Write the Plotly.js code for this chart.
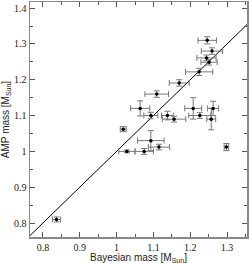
<!DOCTYPE html>
<html><head><meta charset="utf-8">
<script src="https://cdn.plot.ly/plotly-3.0.1.min.js"></script>
<style>html,body{margin:0;padding:0;background:#fff}#c{width:249px;height:263px}</style>
</head><body><div id="c"></div>
<script>
const bayesMass = [1.246,1.259,1.244,1.251,1.224,1.170,1.109,1.064,1.093,1.138,1.156,1.208,1.226,1.262,1.257,1.093,1.028,1.075,1.115,1.298,1.018,0.837];
const ampMass   = [1.310,1.280,1.261,1.249,1.222,1.191,1.160,1.120,1.100,1.100,1.090,1.120,1.100,1.120,1.090,1.030,1.000,1.000,1.012,1.012,1.062,0.810];
const bayesErr  = [0.025,0.029,0.026,0.022,0.037,0.027,0.032,0.026,0.019,0.016,0.032,0.023,0.030,0.015,0.012,0.036,0.022,0.025,0.029,0.006,0.008,0.011];
const ampErr    = [0.010,0.009,0.008,0.008,0.010,0.009,0.009,0.021,0.009,0.012,0.008,0.030,0.008,0.020,0.030,0.028,0.004,0.008,0.008,0.010,0.007,0.007];
const oneToOne  = [0.70, 1.45];
const xTitle = 'Bayesian mass [M<sub>Sun</sub>]';
const yTitle = 'AMP mass [M<sub>Sun</sub>]';

const errStyle = {color:'#777', thickness:1, width:3};
const axisBase = {
  showline:true, linecolor:'#888', linewidth:1.5, mirror:'ticks',
  ticks:'inside', ticklen:5, tickcolor:'#555', tickwidth:1,
  showgrid:false, zeroline:false, automargin:false,
  tickfont:{family:'Liberation Serif', size:10, color:'#222'},
  minor:{ticks:'inside', ticklen:3, dtick:0.05, tickcolor:'#555', showgrid:false}
};
const data = [
  {x:oneToOne, y:oneToOne, mode:'lines', line:{color:'#000', width:1}, hoverinfo:'skip'},
  {x:bayesMass, y:ampMass, mode:'markers', type:'scatter',
   marker:{color:'#000', size:3.5},
   error_x:Object.assign({type:'data', array:bayesErr}, errStyle),
   error_y:Object.assign({type:'data', array:ampErr}, errStyle)}
];
const layout = {
  width:249, height:263, showlegend:false,
  margin:{l:30, r:2, t:2, b:26},
  paper_bgcolor:'#fff', plot_bgcolor:'#fff',
  xaxis:Object.assign({}, axisBase, {range:[0.765,1.354], dtick:0.1, tick0:0.8}),
  yaxis:Object.assign({}, axisBase, {range:[0.761,1.417], dtick:0.1, tick0:0.8,
    title:{text:yTitle, font:{family:'Liberation Sans', size:10, color:'#222'}, standoff:4}}),
  annotations:[{text:xTitle, xref:'paper', yref:'paper', x:0.5, y:0, xanchor:'center', yanchor:'top',
    yshift:-13, showarrow:false, font:{family:'Liberation Sans', size:10, color:'#222'}}]
};
Plotly.newPlot('c', data, layout, {displayModeBar:false, staticPlot:true});
</script></body></html>
